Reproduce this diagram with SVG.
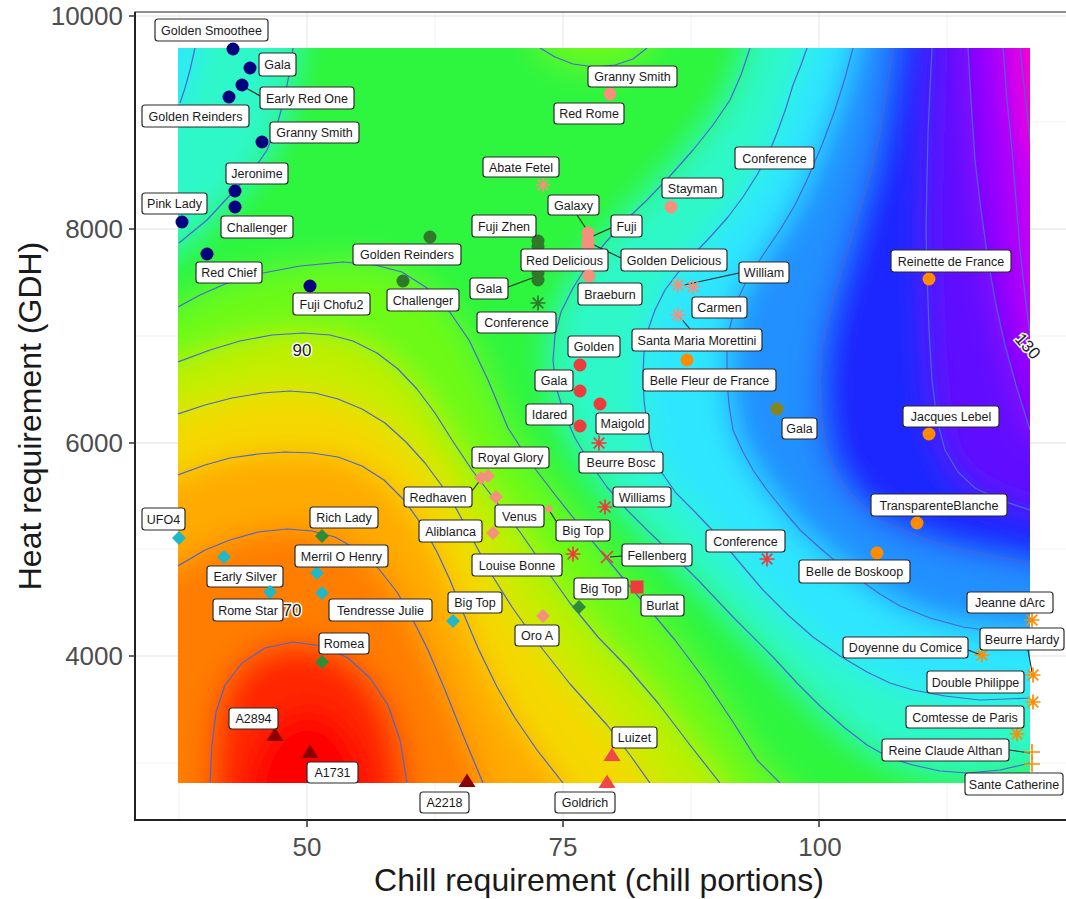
<svg xmlns="http://www.w3.org/2000/svg" width="1066" height="899" viewBox="0 0 1066 899">
<style>
.lb{fill:#fff;stroke:#2b2b2b;stroke-width:1.2}
.lt{font-family:"Liberation Sans",Arial,sans-serif;font-size:12.5px;fill:#1a1a1a;text-anchor:middle}
.ld{stroke:#222;stroke-width:1.1;fill:none}
.ct{fill:none;stroke:#4a66d4;stroke-width:1.2;stroke-linejoin:round}
.gmin{stroke:#f3f3f3;stroke-width:1}
.gmaj{stroke:#ebebeb;stroke-width:1.3}
.tk{font-family:"Liberation Sans",Arial,sans-serif;font-size:26px;fill:#4d4d4d}
.ttl{font-family:"Liberation Sans",Arial,sans-serif;font-size:32px;fill:#1a1a1a}
.cl{font-family:"Liberation Sans",Arial,sans-serif;font-size:17px;fill:#222;stroke:#fff;stroke-width:3;paint-order:stroke;text-anchor:middle}
</style>
<defs>
<clipPath id="rc"><rect x="178" y="48" width="852" height="735"/></clipPath>
<filter id="bl" filterUnits="userSpaceOnUse" x="40" y="-90" width="1130" height="1010"><feGaussianBlur stdDeviation="15"/></filter>
<circle id="c" r="6.5"/>
<path id="d" d="M0,-7L7,0L0,7L-7,0Z"/>
<path id="ds" d="M0,-4.5L4.5,0L0,4.5L-4.5,0Z"/>
<path id="t" d="M0,-7.5L8.5,6L-8.5,6Z"/>
<rect id="q" x="-6.5" y="-6.5" width="13" height="13"/>
<path id="s" d="M-7.5,0H7.5M0,-7.5V7.5M-5.3,-5.3L5.3,5.3M-5.3,5.3L5.3,-5.3" fill="none" stroke-width="1.7"/>
<path id="x" d="M-6,-6L6,6M-6,6L6,-6" fill="none" stroke-width="1.7"/>
<path id="p" d="M-8,0H8M0,-8V8" fill="none" stroke-width="1.7"/>
</defs>
<rect width="1066" height="899" fill="#fff"/>
<g id="grid">
<path class="gmin" d="M179,12V820M435,12V820M691,12V820M947,12V820M135,122H1066M135,336H1066M135,549H1066M135,763H1066"/>
<path class="gmaj" d="M307,12V820M563,12V820M819,12V820M135,16H1066M135,229H1066M135,443H1066M135,656H1066"/>
</g>
<g id="heatmap" clip-path="url(#rc)">
<g filter="url(#bl)">
<rect x="100" y="-30" width="1010" height="890" fill="#ff7d00"/>
<path fill="#ff2600" d="M205,860 L210,783 L212,745 L216,712 L225,685 L242,663 L265,648 L293,642 L322,646 L348,658 L370,678 L388,705 L400,740 L407,783 L412,860Z"/>
<ellipse cx="308" cy="805" rx="62" ry="95" fill="#ff0000"/>
<path fill="#ffaa00" d="M100,600 L178,566 L205,550 L230,540 L258,532 L287,529 L312,531 L335,537 L358,550 L378,568 L397,592 L413,620 L428,650 L445,690 L463,735 L483,783 L500,860 L1110,860 L1110,-30 L100,-30Z"/>
<path fill="#f5d800" d="M100,500 L178,475 L205,465 L230,458 L258,454 L285,452 L312,453 L338,457 L362,466 L384,480 L404,500 L422,525 L437,552 L450,580 L462,610 L478,648 L497,687 L515,718 L537,750 L563,783 L600,860 L1110,860 L1110,-30 L100,-30Z"/>
<path fill="#c2ee00" d="M100,440 L178,414 L205,405 L232,398 L262,393 L290,391 L315,393 L338,399 L362,409 L385,423 L406,442 L425,463 L442,486 L457,510 L472,538 L490,572 L512,607 L537,642 L570,684 L607,725 L630,755 L650,783 L690,860 L1110,860 L1110,-30 L100,-30Z"/>
<path fill="#6cfa18" d="M100,390 L178,362 L210,350 L240,341 L272,335 L303,333 L330,335 L353,341 L377,353 L398,369 L417,389 L435,413 L452,440 L472,470 L495,500 L520,532 L545,568 L570,603 L598,637 L628,668 L658,703 L690,745 L720,783 L770,860 L1110,860 L1110,-30 L100,-30Z"/>
<path fill="#2ef53c" d="M100,350 L178,307 L200,295 L225,284 L263,273 L300,266 L343,262 L375,265 L402,272 L427,288 L449,311 L469,340 L488,380 L508,428 L530,462 L556,496 L583,530 L612,565 L643,602 L675,640 L705,680 L733,722 L757,760 L780,783 L850,860 L1110,860 L1110,-30 L100,-30Z"/>
<path fill="#6cfa18" d="M535,-30 L540,48 L555,57 L573,64 L595,67 L615,65 L633,59 L647,48 L652,-30Z"/>
<path fill="#2ef8c8" d="M100,-30 L300,-30 L293,48 L289,75 L284,100 L277,125 L267,150 L252,172 L232,193 L207,220 L179,243 L100,300Z"/>
<path fill="#2ef8c8" d="M760,-30 L750,48 L741,75 L730,100 L713,125 L693,150 L670,176 L647,200 L626,220 L606,242 L588,264 L573,288 L561,312 L555,335 L553,360 L556,387 L564,413 L575,438 L590,463 L607,487 L627,510 L648,531 L670,552 L700,582 L733,617 L773,657 L797,683 L820,706 L845,728 L867,745 L890,758 L913,765 L940,771 L967,773 L1000,770 L1030,763 L1110,750 L1110,-30Z"/>
<path fill="#2ee6ff" d="M100,-30 L205,-30 L195,48 L190,70 L185,88 L180,103 L100,140Z"/>
<path fill="#2ee6ff" d="M818,-30 L807,48 L801,65 L793,85 L786,108 L777,133 L768,155 L757,175 L743,197 L728,217 L712,235 L696,252 L680,270 L665,290 L655,310 L648,330 L644,352 L643,375 L644,400 L647,425 L652,448 L660,470 L676,493 L695,512 L715,533 L740,563 L763,590 L788,615 L813,637 L840,656 L867,672 L890,683 L913,690 L945,696 L980,700 L1030,698 L1110,697 L1110,-30Z"/>
<path fill="#2290ff" d="M870,-30 L853,48 L845,78 L835,110 L822,145 L807,180 L795,205 L780,230 L763,255 L747,280 L736,303 L730,327 L727,353 L727,380 L729,405 L733,430 L742,450 L753,470 L767,490 L783,510 L800,530 L820,548 L840,565 L860,580 L880,594 L900,606 L930,618 L963,627 L1000,632 L1030,635 L1110,637 L1110,-30Z"/>
<path fill="#1a26ff" d="M905,-30 L893,48 L887,90 L880,133 L872,168 L863,200 L854,230 L845,260 L836,290 L828,320 L822,350 L820,380 L821,415 L827,450 L836,473 L850,493 L865,508 L880,520 L910,533 L947,546 L985,554 L1030,563 L1110,575 L1110,-30Z"/>
<path fill="#6010ff" d="M935,-30 L932,48 L930,90 L928,133 L927,180 L926,230 L927,273 L929,330 L932,380 L937,420 L945,450 L958,472 L975,488 L1000,500 L1030,510 L1110,525 L1110,-30Z"/>
<path fill="#9600ff" d="M964,-30 L968,48 L971,100 L975,160 L981,210 L988,260 L996,305 L1005,345 L1016,385 L1030,430 L1110,470 L1110,-30Z"/>
<path fill="#cc00f4" d="M999,-30 L1003,48 L1007,100 L1012,150 L1016,200 L1020,250 L1025,295 L1030,335 L1110,385 L1110,-30Z"/>
<path fill="#ff00c8" d="M1016,-30 L1020,48 L1025,95 L1030,140 L1110,220 L1110,-30Z"/>
</g>
</g>
<g id="contours" clip-path="url(#rc)">
<path class="ct" d="M210,783 L212,745 L216,712 L225,685 L242,663 L265,648 L293,642 L322,646 L348,658 L370,678 L388,705 L400,740 L407,783"/>
<path class="ct" d="M178,566 L205,550 L230,540 L258,532 L287,529 L312,531 L335,537 L358,550 L378,568 L397,592 L413,620 L428,650 L445,690 L463,735 L483,783"/>
<path class="ct" d="M178,475 L205,465 L230,458 L258,454 L285,452 L312,453 L338,457 L362,466 L384,480 L404,500 L422,525 L437,552 L450,580 L462,610 L478,648 L497,687 L515,718 L537,750 L563,783"/>
<path class="ct" d="M178,414 L205,405 L232,398 L262,393 L290,391 L315,393 L338,399 L362,409 L385,423 L406,442 L425,463 L442,486 L457,510 L472,538 L490,572 L512,607 L537,642 L570,684 L607,725 L630,755 L650,783"/>
<path class="ct" d="M178,362 L210,350 L240,341 L272,335 L303,333 L330,335 L353,341 L377,353 L398,369 L417,389 L435,413 L452,440 L472,470 L495,500 L520,532 L545,568 L570,603 L598,637 L628,668 L658,703 L690,745 L720,783"/>
<path class="ct" d="M178,307 L200,295 L225,284 L263,273 L300,266 L343,262 L375,265 L402,272 L427,288 L449,311 L469,340 L488,380 L508,428 L530,462 L556,496 L583,530 L612,565 L643,602 L675,640 L705,680 L733,722 L757,760 L780,783"/>
<path class="ct" d="M540,48 L555,57 L573,64 L595,67 L615,65 L633,59 L647,48"/>
<path class="ct" d="M293,48 L289,75 L284,100 L277,125 L267,150 L252,172 L232,193 L207,220 L179,243"/>
<path class="ct" d="M195,48 L190,70 L185,88 L180,103"/>
<path class="ct" d="M750,48 L741,75 L730,100 L713,125 L693,150 L670,176 L647,200 L626,220 L606,242 L588,264 L573,288 L561,312 L555,335 L553,360 L556,387 L564,413 L575,438 L590,463 L607,487 L627,510 L648,531 L670,552 L700,582 L733,617 L773,657 L797,683 L820,706 L845,728 L867,745 L890,758 L913,765 L940,771 L967,773 L1000,770 L1030,763"/>
<path class="ct" d="M807,48 L801,65 L793,85 L786,108 L777,133 L768,155 L757,175 L743,197 L728,217 L712,235 L696,252 L680,270 L665,290 L655,310 L648,330 L644,352 L643,375 L644,400 L647,425 L652,448 L660,470 L676,493 L695,512 L715,533 L740,563 L763,590 L788,615 L813,637 L840,656 L867,672 L890,683 L913,690 L945,696 L980,700 L1030,698"/>
<path class="ct" d="M853,48 L845,78 L835,110 L822,145 L807,180 L795,205 L780,230 L763,255 L747,280 L736,303 L730,327 L727,353 L727,380 L729,405 L733,430 L742,450 L753,470 L767,490 L783,510 L800,530 L820,548 L840,565 L860,580 L880,594 L900,606 L930,618 L963,627 L1000,632 L1030,635"/>
<path class="ct" d="M893,48 L887,90 L880,133 L872,168 L863,200 L854,230 L845,260 L836,290 L828,320 L822,350 L820,380 L821,415 L827,450 L836,473 L850,493 L865,508 L880,520 L910,533 L947,546 L985,554 L1030,563"/>
<path class="ct" d="M932,48 L930,90 L928,133 L927,180 L926,230 L927,273 L929,330 L932,380 L937,420 L945,450 L958,472 L975,488 L1000,500 L1030,510"/>
<path class="ct" d="M968,48 L971,100 L975,160 L981,210 L988,260 L996,305 L1005,345 L1016,385 L1030,430"/>
<path class="ct" d="M1003,48 L1007,100 L1012,150 L1016,200 L1020,250 L1025,295 L1030,335"/>
<path class="ct" d="M1020,48 L1025,95 L1030,140"/>
</g>
<g id="contour-labels">
<text class="cl" x="302" y="356">90</text>
<text class="cl" x="292" y="616">70</text>
<text class="cl" transform="translate(1028,346) rotate(48)" x="0" y="6">130</text>
</g>
<g id="axes">
<rect x="135" y="12" width="935" height="808" fill="none" stroke="#444" stroke-width="1.2"/>
<path d="M135,12V821M134,820H1066" stroke="#222" stroke-width="2" fill="none"/>
<path d="M129,16H135M129,229H135M129,443H135M129,656H135M307,820V827M563,820V827M819,820V827" stroke="#333" stroke-width="1.5"/>
<text class="tk" x="123" y="25" text-anchor="end">10000</text>
<text class="tk" x="123" y="238" text-anchor="end">8000</text>
<text class="tk" x="123" y="452" text-anchor="end">6000</text>
<text class="tk" x="123" y="665" text-anchor="end">4000</text>
<text class="tk" x="307" y="856" text-anchor="middle">50</text>
<text class="tk" x="563" y="856" text-anchor="middle">75</text>
<text class="tk" x="820" y="856" text-anchor="middle">100</text>
<text class="ttl" x="599" y="891" text-anchor="middle">Chill requirement (chill portions)</text>
<text class="ttl" transform="translate(41,416) rotate(-90)" x="0" y="0" text-anchor="middle">Heat requirement (GDH)</text>
</g>
<g id="connectors">
<path class="ld" d="M246,88L262,97M577,215L587,230M611,228L593,236M592,244L621,258M533,237L537,241M508,287L535,277M739,273L684,285M679,316L690,329M472,491L481,479M549,510L556,521M622,556L610,557M968,650L981,655M1028,650L1032,672M1009,750L1030,753"/>
</g>
<g id="nodes">
<g id="n-golden-smoothee"><use href="#c" x="233" y="49" fill="#00007f"/><rect class="lb" x="155" y="19" width="113" height="22" rx="3"/><text class="lt" x="211.5" y="34.5">Golden Smoothee</text></g>
<g id="n-gala-navy"><use href="#c" x="250" y="68" fill="#00007f"/><rect class="lb" x="259" y="53" width="37" height="23" rx="3"/><text class="lt" x="277.5" y="69">Gala</text></g>
<g id="n-early-red-one"><use href="#c" x="242" y="85" fill="#00007f"/><rect class="lb" x="260" y="87" width="94" height="22" rx="3"/><text class="lt" x="307" y="102.5">Early Red One</text></g>
<g id="n-golden-reinders-navy"><use href="#c" x="229" y="97" fill="#00007f"/><rect class="lb" x="142" y="105" width="107" height="22" rx="3"/><text class="lt" x="195.5" y="120.5">Golden Reinders</text></g>
<g id="n-granny-smith-navy"><use href="#c" x="262" y="142" fill="#00007f"/><rect class="lb" x="270" y="122" width="89" height="21" rx="3"/><text class="lt" x="314.5" y="137">Granny Smith</text></g>
<g id="n-jeronime"><use href="#c" x="235" y="191" fill="#00007f"/><rect class="lb" x="226" y="163" width="62" height="21" rx="3"/><text class="lt" x="257" y="178">Jeronime</text></g>
<g id="n-challenger-navy"><use href="#c" x="235" y="207" fill="#00007f"/><rect class="lb" x="221" y="216" width="72" height="22" rx="3"/><text class="lt" x="257" y="231.5">Challenger</text></g>
<g id="n-pink-lady"><use href="#c" x="182" y="222" fill="#00007f"/><rect class="lb" x="142" y="193" width="65" height="21" rx="3"/><text class="lt" x="174.5" y="208">Pink Lady</text></g>
<g id="n-red-chief"><use href="#c" x="207" y="254" fill="#00007f"/><rect class="lb" x="196" y="262" width="66" height="21" rx="3"/><text class="lt" x="229" y="277">Red Chief</text></g>
<g id="n-fuji-chofu2"><use href="#c" x="310" y="286" fill="#00007f"/><rect class="lb" x="293" y="293" width="77" height="22" rx="3"/><text class="lt" x="331.5" y="308.5">Fuji Chofu2</text></g>
<g id="n-golden-reinders-green"><use href="#c" x="430" y="237" fill="#2f7a2a"/><rect class="lb" x="353" y="244" width="108" height="21" rx="3"/><text class="lt" x="407" y="259">Golden Reinders</text></g>
<g id="n-challenger-green"><use href="#c" x="403" y="281" fill="#2f7a2a"/><rect class="lb" x="387" y="289" width="72" height="22" rx="3"/><text class="lt" x="423" y="304.5">Challenger</text></g>
<g id="n-fuji-zhen"><use href="#c" x="538" y="241" fill="#2f7a2a"/><use href="#c" x="538" y="247" fill="#2f7a2a"/><rect class="lb" x="472" y="215" width="64" height="22" rx="3"/><text class="lt" x="504" y="230.5">Fuji Zhen</text></g>
<g id="n-gala-green"><use href="#c" x="538" y="273" fill="#2f7a2a"/><use href="#c" x="538" y="280" fill="#2f7a2a"/><rect class="lb" x="470" y="278" width="38" height="21" rx="3"/><text class="lt" x="489" y="293">Gala</text></g>
<g id="n-conference-green"><use href="#s" x="538" y="303" stroke="#2f7a2a"/><rect class="lb" x="477" y="312" width="79" height="21" rx="3"/><text class="lt" x="516.5" y="327">Conference</text></g>
<g id="n-granny-smith-salmon"><use href="#c" x="610" y="94" fill="#f4907c"/><rect class="lb" x="588" y="66" width="89" height="21" rx="3"/><text class="lt" x="632.5" y="81">Granny Smith</text></g>
<g id="n-red-rome"><rect class="lb" x="554" y="103" width="70" height="21" rx="3"/><text class="lt" x="589" y="118">Red Rome</text></g>
<g id="n-abate-fetel"><use href="#s" x="543" y="185" stroke="#f4907c"/><rect class="lb" x="483" y="157" width="76" height="20" rx="3"/><text class="lt" x="521" y="171.5">Abate Fetel</text></g>
<g id="n-galaxy"><use href="#c" x="588" y="233" fill="#f4907c"/><rect class="lb" x="548" y="195" width="51" height="20" rx="3"/><text class="lt" x="573.5" y="209.5">Galaxy</text></g>
<g id="n-fuji"><use href="#c" x="588" y="240" fill="#f4907c"/><rect class="lb" x="611" y="215" width="31" height="22" rx="3"/><text class="lt" x="626.5" y="230.5">Fuji</text></g>
<g id="n-golden-delicious"><use href="#c" x="588" y="246" fill="#f4907c"/><rect class="lb" x="621" y="249" width="106" height="22" rx="3"/><text class="lt" x="674" y="264.5">Golden Delicious</text></g>
<g id="n-red-delicious"><rect class="lb" x="521" y="249" width="87" height="22" rx="3"/><text class="lt" x="564.5" y="264.5">Red Delicious</text></g>
<g id="n-braeburn"><use href="#c" x="589" y="276" fill="#f4907c"/><rect class="lb" x="578" y="283" width="64" height="22" rx="3"/><text class="lt" x="610" y="298.5">Braeburn</text></g>
<g id="n-stayman"><use href="#c" x="671" y="207" fill="#f4907c"/><rect class="lb" x="662" y="178" width="61" height="20" rx="3"/><text class="lt" x="692.5" y="192.5">Stayman</text></g>
<g id="n-conference-cyan"><rect class="lb" x="735" y="147" width="79" height="22" rx="3"/><text class="lt" x="774.5" y="162.5">Conference</text></g>
<g id="n-william"><use href="#s" x="678" y="285" stroke="#f4907c"/><rect class="lb" x="739" y="262" width="50" height="21" rx="3"/><text class="lt" x="764" y="277">William</text></g>
<g id="n-carmen"><use href="#s" x="693" y="287" stroke="#f4907c"/><rect class="lb" x="692" y="297" width="55" height="21" rx="3"/><text class="lt" x="719.5" y="312">Carmen</text></g>
<g id="n-santa-maria-morettini"><use href="#s" x="678" y="315" stroke="#f4907c"/><rect class="lb" x="632" y="329" width="130" height="22" rx="3"/><text class="lt" x="697" y="344.5">Santa Maria Morettini</text></g>
<g id="n-reinette-de-france"><use href="#c" x="929" y="279" fill="#ff8c00"/><rect class="lb" x="891" y="250" width="120" height="22" rx="3"/><text class="lt" x="951" y="265.5">Reinette de France</text></g>
<g id="n-belle-fleur-de-france"><use href="#c" x="687" y="360" fill="#ff8c00"/><rect class="lb" x="643" y="369" width="133" height="22" rx="3"/><text class="lt" x="709.5" y="384.5">Belle Fleur de France</text></g>
<g id="n-gala-olive"><use href="#c" x="777" y="409" fill="#85851a"/><rect class="lb" x="782" y="418" width="35" height="21" rx="3"/><text class="lt" x="799.5" y="433">Gala</text></g>
<g id="n-jacques-lebel"><use href="#c" x="929" y="434" fill="#ff8c00"/><rect class="lb" x="903" y="406" width="96" height="21" rx="3"/><text class="lt" x="951" y="421">Jacques Lebel</text></g>
<g id="n-golden-red"><use href="#c" x="580" y="365" fill="#ee3b3b"/><rect class="lb" x="568" y="336" width="52" height="21" rx="3"/><text class="lt" x="594" y="351">Golden</text></g>
<g id="n-gala-red"><use href="#c" x="580" y="391" fill="#ee3b3b"/><rect class="lb" x="535" y="370" width="38" height="21" rx="3"/><text class="lt" x="554" y="385">Gala</text></g>
<g id="n-maigold"><use href="#c" x="600" y="404" fill="#ee3b3b"/><rect class="lb" x="596" y="413" width="53" height="21" rx="3"/><text class="lt" x="622.5" y="428">Maigold</text></g>
<g id="n-idared"><use href="#c" x="580" y="426" fill="#ee3b3b"/><rect class="lb" x="526" y="404" width="47" height="21" rx="3"/><text class="lt" x="549.5" y="419">Idared</text></g>
<g id="n-beurre-bosc"><use href="#s" x="599" y="443" stroke="#ee3b3b"/><rect class="lb" x="579" y="452" width="84" height="21" rx="3"/><text class="lt" x="621" y="467">Beurre Bosc</text></g>
<g id="n-royal-glory"><use href="#d" x="488" y="476" fill="#f4907c"/><rect class="lb" x="472" y="447" width="77" height="21" rx="3"/><text class="lt" x="510.5" y="462">Royal Glory</text></g>
<g id="n-redhaven"><use href="#d" x="481" y="478" fill="#f4907c"/><use href="#d" x="496" y="497" fill="#f4907c"/><rect class="lb" x="404" y="487" width="68" height="20" rx="3"/><text class="lt" x="438" y="501.5">Redhaven</text></g>
<g id="n-williams"><use href="#s" x="605" y="507" stroke="#ee3b3b"/><rect class="lb" x="613" y="487" width="58" height="20" rx="3"/><text class="lt" x="642" y="501.5">Williams</text></g>
<g id="n-venus"><use href="#ds" x="549" y="509" fill="#f4907c"/><rect class="lb" x="495" y="505" width="49" height="22" rx="3"/><text class="lt" x="519.5" y="520.5">Venus</text></g>
<g id="n-big-top-pink"><rect class="lb" x="556" y="520" width="54" height="21" rx="3"/><text class="lt" x="583" y="535">Big Top</text></g>
<g id="n-aliblanca"><use href="#d" x="493" y="533" fill="#f4907c"/><rect class="lb" x="419" y="520" width="63" height="22" rx="3"/><text class="lt" x="450.5" y="535.5">Aliblanca</text></g>
<g id="n-louise-bonne"><use href="#s" x="573" y="554" stroke="#ee3b3b"/><rect class="lb" x="472" y="554" width="90" height="22" rx="3"/><text class="lt" x="517" y="569.5">Louise Bonne</text></g>
<g id="n-fellenberg"><use href="#x" x="607" y="557" stroke="#ee3b3b"/><rect class="lb" x="622" y="544" width="70" height="22" rx="3"/><text class="lt" x="657" y="559.5">Fellenberg</text></g>
<g id="n-conference-red"><use href="#s" x="767" y="559" stroke="#ee3b3b"/><rect class="lb" x="706" y="530" width="79" height="22" rx="3"/><text class="lt" x="745.5" y="545.5">Conference</text></g>
<g id="n-burlat"><use href="#q" x="637" y="587" fill="#ee3b3b"/><rect class="lb" x="641" y="595" width="43" height="21" rx="3"/><text class="lt" x="662.5" y="610">Burlat</text></g>
<g id="n-big-top-green"><use href="#d" x="579" y="607" fill="#2e8b3a"/><rect class="lb" x="574" y="578" width="54" height="21" rx="3"/><text class="lt" x="601" y="593">Big Top</text></g>
<g id="n-big-top-cyan"><use href="#d" x="453" y="621" fill="#20b8c8"/><rect class="lb" x="448" y="592" width="54" height="21" rx="3"/><text class="lt" x="475" y="607">Big Top</text></g>
<g id="n-oro-a"><use href="#d" x="543" y="616" fill="#f4907c"/><rect class="lb" x="515" y="625" width="44" height="21" rx="3"/><text class="lt" x="537" y="640">Oro A</text></g>
<g id="n-luizet"><use href="#t" x="612" y="755" fill="#f04848"/><rect class="lb" x="612" y="727" width="45" height="21" rx="3"/><text class="lt" x="634.5" y="742">Luizet</text></g>
<g id="n-goldrich"><use href="#t" x="607" y="782" fill="#f04848"/><rect class="lb" x="555" y="792" width="60" height="21" rx="3"/><text class="lt" x="585" y="807">Goldrich</text></g>
<g id="n-a2218"><use href="#t" x="467" y="781" fill="#8b0000"/><rect class="lb" x="420" y="792" width="49" height="21" rx="3"/><text class="lt" x="444.5" y="807">A2218</text></g>
<g id="n-ufo4"><use href="#d" x="179" y="538" fill="#20b8c8"/><rect class="lb" x="142" y="508" width="43" height="22" rx="3"/><text class="lt" x="163.5" y="523.5">UFO4</text></g>
<g id="n-rich-lady"><use href="#d" x="322" y="536" fill="#2e8b3a"/><rect class="lb" x="310" y="507" width="68" height="21" rx="3"/><text class="lt" x="344" y="522">Rich Lady</text></g>
<g id="n-merril-o-henry"><use href="#d" x="317" y="573" fill="#20b8c8"/><rect class="lb" x="295" y="545" width="93" height="22" rx="3"/><text class="lt" x="341.5" y="560.5">Merril O Henry</text></g>
<g id="n-early-silver"><use href="#d" x="224" y="557" fill="#20b8c8"/><rect class="lb" x="207" y="566" width="76" height="21" rx="3"/><text class="lt" x="245" y="581">Early Silver</text></g>
<g id="n-rome-star"><use href="#d" x="270" y="592" fill="#20b8c8"/><rect class="lb" x="213" y="599" width="70" height="22" rx="3"/><text class="lt" x="248" y="614.5">Rome Star</text></g>
<g id="n-tendresse-julie"><use href="#d" x="322" y="593" fill="#20b8c8"/><rect class="lb" x="329" y="599" width="103" height="22" rx="3"/><text class="lt" x="380.5" y="614.5">Tendresse Julie</text></g>
<g id="n-romea"><use href="#d" x="322" y="662" fill="#2e8b3a"/><rect class="lb" x="319" y="633" width="50" height="21" rx="3"/><text class="lt" x="344" y="648">Romea</text></g>
<g id="n-a2894"><use href="#t" x="275" y="735" fill="#8b0000"/><rect class="lb" x="229" y="708" width="49" height="21" rx="3"/><text class="lt" x="253.5" y="723">A2894</text></g>
<g id="n-a1731"><use href="#t" x="310" y="752" fill="#8b0000"/><rect class="lb" x="307" y="762" width="51" height="21" rx="3"/><text class="lt" x="332.5" y="777">A1731</text></g>
<g id="n-transparente-blanche"><use href="#c" x="917" y="523" fill="#ff8c00"/><rect class="lb" x="871" y="494" width="136" height="22" rx="3"/><text class="lt" x="939" y="509.5">TransparenteBlanche</text></g>
<g id="n-belle-de-boskoop"><use href="#c" x="877" y="553" fill="#ff8c00"/><rect class="lb" x="799" y="560" width="111" height="23" rx="3"/><text class="lt" x="854.5" y="576">Belle de Boskoop</text></g>
<g id="n-jeanne-darc"><use href="#s" x="1032" y="620" stroke="#ff8c00"/><rect class="lb" x="967" y="592" width="86" height="21" rx="3"/><text class="lt" x="1010" y="607">Jeanne dArc</text></g>
<g id="n-doyenne-du-comice"><use href="#s" x="982" y="655" stroke="#ff8c00"/><rect class="lb" x="843" y="637" width="125" height="21" rx="3"/><text class="lt" x="905.5" y="652">Doyenne du Comice</text></g>
<g id="n-beurre-hardy"><use href="#s" x="1033" y="675" stroke="#ff8c00"/><rect class="lb" x="980" y="628" width="84" height="22" rx="3"/><text class="lt" x="1022" y="643.5">Beurre Hardy</text></g>
<g id="n-double-philippe"><use href="#s" x="1033" y="702" stroke="#ff8c00"/><rect class="lb" x="927" y="671" width="97" height="22" rx="3"/><text class="lt" x="975.5" y="686.5">Double Philippe</text></g>
<g id="n-comtesse-de-paris"><use href="#s" x="1017" y="734" stroke="#ff8c00"/><rect class="lb" x="906" y="706" width="118" height="22" rx="3"/><text class="lt" x="965" y="721.5">Comtesse de Paris</text></g>
<g id="n-reine-claude-althan"><use href="#p" x="1032" y="752" stroke="#ff8c00"/><rect class="lb" x="882" y="739" width="127" height="22" rx="3"/><text class="lt" x="945.5" y="754.5">Reine Claude Althan</text></g>
<g id="n-sante-catherine"><use href="#p" x="1032" y="764" stroke="#ff8c00"/><rect class="lb" x="965" y="773" width="98" height="22" rx="3"/><text class="lt" x="1014" y="788.5">Sante Catherine</text></g>
</g>
</svg>
